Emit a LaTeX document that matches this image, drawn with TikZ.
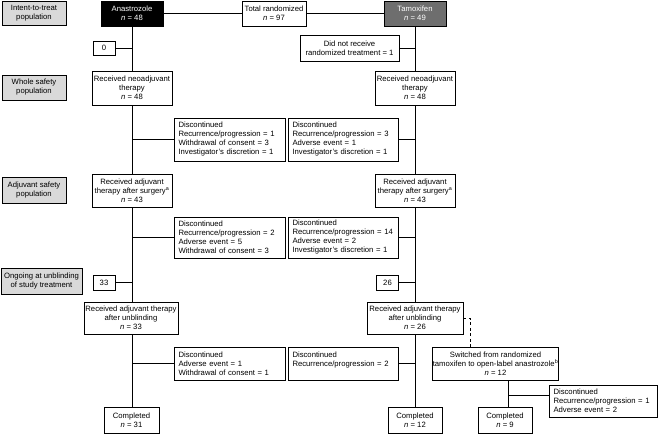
\documentclass[tikz,border=0pt]{standalone}
\usepackage{fontspec}
\setmainfont{Liberation Sans}
\definecolor{popgrey}{HTML}{D9D9D9}
\definecolor{tamgrey}{HTML}{6E6E6E}
\newcommand{\fs}{\fontsize{7.7}{9}\selectfont}
\newcommand{\nn}{{\itshape n}}
\tikzset{
  bx/.style={draw, line width=0.7pt, fill=white, inner sep=0pt, align=center, font=\fs},
  popbox/.style={bx, fill=popgrey, line width=0.9pt},
  discbox/.style={draw, line width=0.7pt, fill=white, inner ysep=0pt, inner xsep=4.5pt, align=left, font=\fs},
  ln/.style={line width=0.7pt},
}
\begin{document}
\begin{tikzpicture}[x=1pt,y=-1pt]
\useasboundingbox (0,0) rectangle (660,434);
% population labels
\node[popbox, minimum width=64pt, minimum height=24pt] (itt) at (34,13) {Intent-to-treat\\population};
\node[popbox, minimum width=64pt, minimum height=25pt] (wsp) at (34,87.5) {Whole safety\\population};
\node[popbox, minimum width=64pt, minimum height=26pt] (asp) at (34,190) {Adjuvant safety\\population};
\node[popbox, minimum width=81pt, minimum height=26pt] (ong) at (41.5,281) {Ongoing at unblinding\\of study treatment};
% top row
\node[bx, fill=black, text=white, minimum width=62pt, minimum height=25pt] (ana) at (132,13.5) {Anastrozole\\\nn{} = 48};
\node[bx, minimum width=64pt, minimum height=25pt] (tot) at (274,13.5) {Total randomized\\\nn{} = 97};
\node[bx, fill=tamgrey, text=white, minimum width=62pt, minimum height=25pt] (tam) at (415,13.5) {Tamoxifen\\\nn{} = 49};
% exclusions
\node[bx, minimum width=22pt, minimum height=14pt] (z0) at (104,48) {0};
\node[bx, minimum width=99pt, minimum height=26pt] (dnr) at (349.5,48) {Did not receive\\randomized treatment = 1};
% neoadjuvant
\node[bx, minimum width=80pt, minimum height=34pt] (neoL) at (132,88) {Received neoadjuvant\\therapy\\\nn{} = 48};
\node[bx, minimum width=80pt, minimum height=34pt] (neoR) at (415,88) {Received neoadjuvant\\therapy\\\nn{} = 48};
% discontinued 1
\node[discbox, text width=102pt, minimum height=43pt] (d1L) at (229.5,139.5) {Discontinued\\Recurrence/progression = 1\\Withdrawal of consent = 3\\Investigator's discretion = 1};
\node[discbox, text width=101pt, minimum height=43pt] (d1R) at (343,139.5) {Discontinued\\Recurrence/progression = 3\\Adverse event = 1\\Investigator's discretion = 1};
% adjuvant
\node[bx, minimum width=80pt, minimum height=33pt] (adjL) at (132,190.5) {Received adjuvant\\therapy after surgery\textsuperscript{a}\\\nn{} = 43};
\node[bx, minimum width=80pt, minimum height=33pt] (adjR) at (415,190.5) {Received adjuvant\\therapy after surgery\textsuperscript{a}\\\nn{} = 43};
% discontinued 2
\node[discbox, text width=102pt, minimum height=41pt] (d2L) at (229.5,237.5) {Discontinued\\Recurrence/progression = 2\\Adverse event = 5\\Withdrawal of consent = 3};
\node[discbox, text width=101pt, minimum height=41pt] (d2R) at (343,237.5) {Discontinued\\Recurrence/progression = 14\\Adverse event = 2\\Investigator's discretion = 1};
% ongoing
\node[bx, minimum width=22pt, minimum height=15pt] (n33) at (104,282.5) {33};
\node[bx, minimum width=22pt, minimum height=15pt] (n26) at (387.5,282.5) {26};
% unblinding
\node[bx, minimum width=94pt, minimum height=32pt] (unbL) at (131,318) {Received adjuvant therapy\\after unblinding\\\nn{} = 33};
\node[bx, minimum width=96pt, minimum height=32pt] (unbR) at (415,318) {Received adjuvant therapy\\after unblinding\\\nn{} = 26};
% discontinued 3
\node[discbox, text width=102pt, minimum height=33pt] (d3L) at (229.5,363.5) {Discontinued\\Adverse event = 1\\Withdrawal of consent = 1};
\node[discbox, text width=101pt, minimum height=33pt] (d3R) at (343,363.5) {Discontinued\\Recurrence/progression = 2\\\mbox{}};
\node[bx, minimum width=105pt, minimum height=33pt] (sw) at (495.5,363.5) {Switched from randomized\\tamoxifen to open-label anastrozole\textsuperscript{b}\\\nn{} = 12};
\node[discbox, text width=99pt, minimum height=32pt] (d4) at (603,401) {Discontinued\\Recurrence/progression = 1\\Adverse event = 2};
% completed
\node[bx, minimum width=55pt, minimum height=26pt] (cL) at (131.5,420) {Completed\\\nn{} = 31};
\node[bx, minimum width=54pt, minimum height=26pt] (c12) at (415,420) {Completed\\\nn{} = 12};
\node[bx, minimum width=54pt, minimum height=26pt] (c9) at (505,420) {Completed\\\nn{} = 9};
% connectors
\draw[ln] (ana.east) -- (tot.west);
\draw[ln] (tot.east) -- (tam.west);
\draw[ln] (ana.south) -- (neoL.north);
\draw[ln] (z0.east) -- (z0.east -| ana.south);
\draw[ln] (tam.south) -- (neoR.north);
\draw[ln] (dnr.east) -- (dnr.east -| tam.south);
\draw[ln] (neoL.south) -- (adjL.north);
\draw[ln] (d1L.west) -- (d1L.west -| neoL.south);
\draw[ln] (neoR.south) -- (adjR.north);
\draw[ln] (d1R.east) -- (d1R.east -| neoR.south);
\draw[ln] (adjL.south) -- (adjL.south |- unbL.north);
\draw[ln] (d2L.west) -- (d2L.west -| adjL.south);
\draw[ln] (n33.east) -- (n33.east -| adjL.south);
\draw[ln] (adjR.south) -- (adjR.south |- unbR.north);
\draw[ln] (d2R.east) -- (d2R.east -| adjR.south);
\draw[ln] (n26.east) -- (n26.east -| adjR.south);
\coordinate (unbLb) at (132,334);
\draw[ln] (unbLb) -- (unbLb |- cL.north);
\draw[ln] (d3L.west) -- (d3L.west -| unbLb);
\draw[ln] (unbR.south) -- (c12.north);
\draw[ln] (d3R.east) -- (d3R.east -| unbR.south);
\coordinate (dsh) at (470,318);
\draw[ln, dash pattern=on 3pt off 2.5pt] (unbR.east) -- (dsh) -- (dsh |- sw.north);
\coordinate (swb) at (508,380);
\draw[ln] (swb) -- (swb |- c9.north);
\coordinate (d4b) at (508,395);
\draw[ln] (d4b) -- (d4b -| d4.west);
\end{tikzpicture}
\end{document}
